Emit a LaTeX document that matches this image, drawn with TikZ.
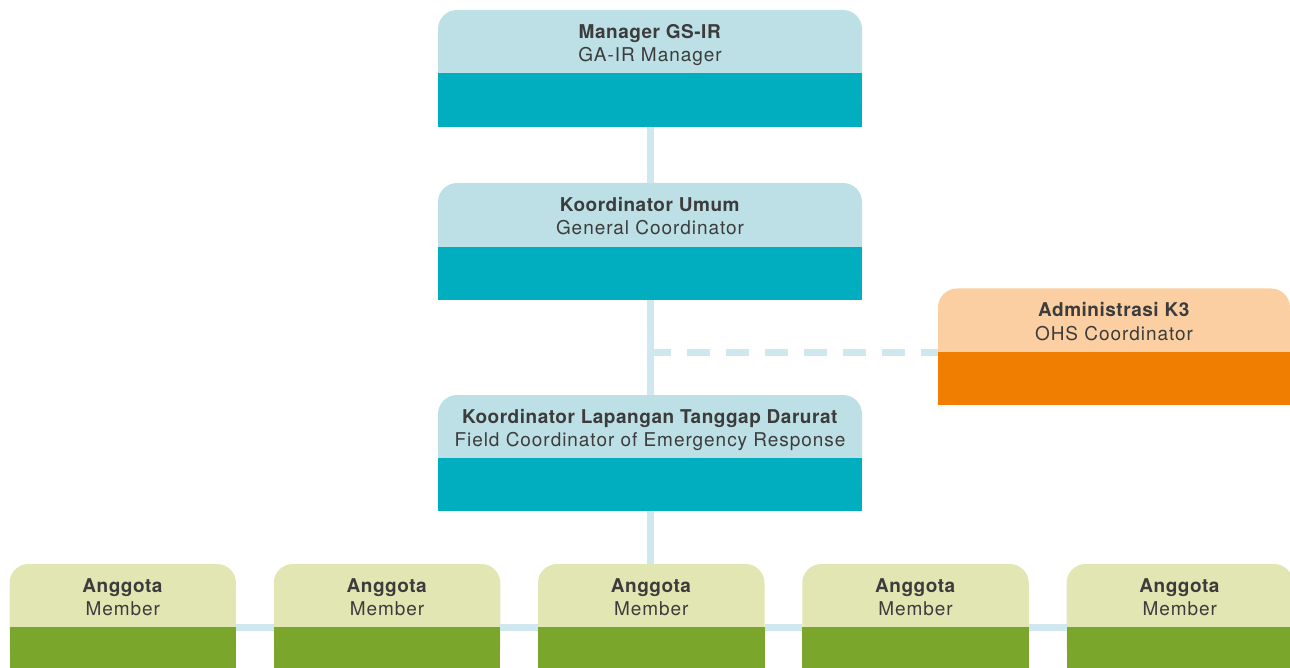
\documentclass[tikz,border=0pt]{standalone}
\usepackage{fontspec}
\setmainfont{TeX Gyre Heros}[LetterSpace=5,BoldFeatures={LetterSpace=2.7}]
\definecolor{tealL}{HTML}{BCE0E5}
\definecolor{tealD}{HTML}{00AEBF}
\definecolor{orangeL}{HTML}{FBCFA1}
\definecolor{orangeD}{HTML}{F07E00}
\definecolor{greenL}{HTML}{E2E6B2}
\definecolor{greenD}{HTML}{7BA62C}
\definecolor{lineC}{HTML}{CFE7EE}
\definecolor{txtC}{HTML}{3C3C3C}
\tikzset{
  boxbg/.style={rectangle, rounded corners=19pt, inner sep=0pt, outer sep=0pt, draw=none},
  boxdark/.style={rectangle, inner sep=0pt, outer sep=0pt, draw=none},
  lbl/.style={align=center, inner sep=0pt, text=txtC, font=\fontsize{19}{23.4}\selectfont, anchor=base},
  conn/.style={draw=lineC, line width=7pt},
  dashconn/.style={draw=lineC, line width=7pt, dash pattern=on 23pt off 16pt},
}
\begin{document}
\begin{tikzpicture}[x=1pt, y=-1pt]
\useasboundingbox (0,0) rectangle (1290,668);
% Boxes
\node[boxbg, fill=tealL, minimum width=424pt, minimum height=117pt] (mgr) at (650,68.5) {};
\node[boxdark, fill=tealD, minimum width=424pt, minimum height=53.5pt] (mgrd) at (650,100.25) {};
\node[boxbg, fill=tealL, minimum width=424pt, minimum height=117pt] (umum) at (650,241.5) {};
\node[boxdark, fill=tealD, minimum width=424pt, minimum height=53pt] (umumd) at (650,273.5) {};
\node[boxbg, fill=orangeL, minimum width=352pt, minimum height=116.5pt] (adm) at (1114,346.75) {};
\node[boxdark, fill=orangeD, minimum width=352pt, minimum height=53pt] (admd) at (1114,378.5) {};
\node[boxbg, fill=tealL, minimum width=424pt, minimum height=116pt] (fld) at (650,453) {};
\node[boxdark, fill=tealD, minimum width=424pt, minimum height=53pt] (fldd) at (650,484.5) {};
\foreach \i/\cx in {1/122.75,2/387,3/651.25,4/915.5,5/1179.75}{
  \node[boxbg, fill=greenL, minimum width=226.5pt, minimum height=104pt] (m\i) at (\cx,616) {};
  \node[boxdark, fill=greenD, minimum width=226.5pt, minimum height=41pt] (m\i d) at (\cx,647.5) {};
}
% Connectors
\draw[conn] (mgrd.south) -- (umum.north);
\draw[conn] (umumd.south) -- (fld.north);
\draw[conn] (fldd.south) -- (fldd.south |- m3.north);
\coordinate (dj) at ([xshift=-2pt]umumd.south |- admd.north west);
\draw[dashconn] (dj) -- (admd.north west);
\draw[conn] (m1d.north east) -- (m2d.north west);
\draw[conn] (m2d.north east) -- (m3d.north west);
\draw[conn] (m3d.north east) -- (m4d.north west);
\draw[conn] (m4d.north east) -- (m5d.north west);
% Labels
\node[lbl] (mgrt) at (650,61.7) {\textbf{Manager GS-IR}\\GA-IR Manager};
\node[lbl] (umumt) at (650,234.5) {\textbf{Koordinator Umum}\\General Coordinator};
\node[lbl] (admt) at (1114,340.2) {\textbf{Administrasi K3}\\OHS Coordinator};
\node[lbl] (fldt) at (650,446.7) {\textbf{Koordinator Lapangan Tanggap Darurat}\\Field Coordinator of Emergency Response};
\foreach \i/\cx in {1/122.75,2/387,3/651.25,4/915.5,5/1179.75}{
  \node[lbl] (m\i t) at (\cx,615.7) {\textbf{Anggota}\\Member};
}
\end{tikzpicture}
\end{document}
